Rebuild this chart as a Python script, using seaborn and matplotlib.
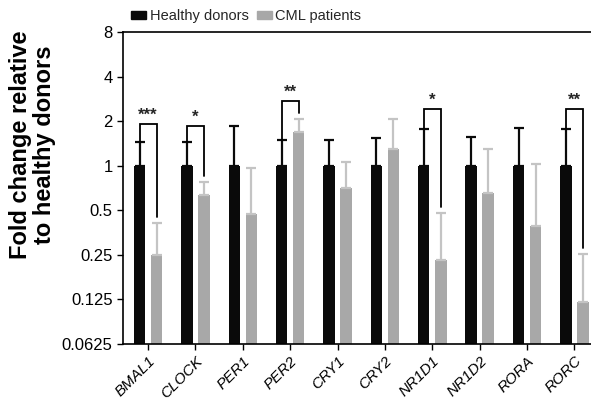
import pandas as pd
import numpy as np
import matplotlib
matplotlib.use("Agg")
import matplotlib.pyplot as plt
import seaborn as sns

sns.set_style("white")
plt.rcParams['font.family'] = ['Liberation Sans', 'DejaVu Sans']

# data
genes = ['BMAL1', 'CLOCK', 'PER1', 'PER2', 'CRY1', 'CRY2', 'NR1D1', 'NR1D2', 'RORA', 'RORC']
healthy_mean = [1, 1, 1, 1, 1, 1, 1, 1, 1, 1]
healthy_upper = [1.45, 1.45, 1.86, 1.50, 1.50, 1.54, 1.78, 1.57, 1.80, 1.78]
cml_mean = [0.25, 0.63, 0.47, 1.70, 0.71, 1.30, 0.23, 0.66, 0.39, 0.121]
cml_upper = [0.41, 0.78, 0.97, 2.07, 1.06, 2.07, 0.48, 1.30, 1.03, 0.255]

# significance brackets: gene, stars, bracket height
sig_genes = ['BMAL1', 'CLOCK', 'PER2', 'NR1D1', 'RORC']
sig_stars = ['***', '*', '**', '*', '**']
sig_height = [1.92, 1.86, 2.74, 2.42, 2.42]

yticks = [0.0625, 0.125, 0.25, 0.5, 1, 2, 4, 8]

df = pd.DataFrame({
    'gene': genes * 2,
    'group': ['Healthy donors'] * len(genes) + ['CML patients'] * len(genes),
    'value': healthy_mean + cml_mean,
})

colors = {'Healthy donors': '#0a0a0a', 'CML patients': '#a8a8a8'}
err_colors = {'Healthy donors': '#0a0a0a', 'CML patients': '#c4c4c4'}

fig = plt.figure(figsize=(5.91, 4.01), dpi=100)
ax = fig.add_axes([0.208, 0.142, 0.80, 0.778])

sns.barplot(data=df, x='gene', y='value', hue='group', palette=colors,
            width=0.72, gap=0.33, errorbar=None, ax=ax, legend=False,
            linewidth=0)
ax.set_yscale('log', base=2)

# error bars (upper only) on top of each bar
centers = {}
for container, grp, upper, means in zip(ax.containers,
                                        ['Healthy donors', 'CML patients'],
                                        [healthy_upper, cml_upper],
                                        [healthy_mean, cml_mean]):
    xs = [p.get_x() + p.get_width() / 2 for p in container.patches]
    centers[grp] = xs
    up = np.array(upper) - np.array(means)
    ax.errorbar(xs, means, yerr=[np.zeros(len(xs)), up], fmt='none',
                ecolor=err_colors[grp], elinewidth=1.6, capsize=3.5,
                capthick=1.6, zorder=1)

# significance brackets
for g, s, h in zip(sig_genes, sig_stars, sig_height):
    i = genes.index(g)
    x0 = centers['Healthy donors'][i]
    x1 = centers['CML patients'][i]
    y0 = healthy_upper[i]
    y1 = cml_upper[i] * 1.1
    ax.plot([x0, x0, x1, x1], [y0, h, h, y1], color='black', lw=1.3,
            solid_joinstyle='miter')
    ax.text((x0 + x1) / 2, h * 1.02, s, ha='center', va='bottom',
            fontsize=12, fontweight='bold')

ax.set_ylim(0.0625, 8)
ax.set_xlim(-0.53, 9.45)
ax.set_yticks(yticks)
ax.set_yticklabels(['0.0625', '0.125', '0.25', '0.5', '1', '2', '4', '8'])
ax.minorticks_off()
ax.set_xticks(range(len(genes)))
ax.set_xticklabels(genes, rotation=45, ha='right', rotation_mode='anchor',
                   fontstyle='italic')
ax.tick_params(axis='both', direction='out', length=4,
               width=1, left=True, bottom=True, colors='black')
ax.tick_params(axis='y', labelsize=12)
ax.tick_params(axis='x', labelsize=11, pad=3)
ax.set_xlabel('')
ax.set_ylabel('Fold change relative\nto healthy donors', fontsize=17,
              fontweight='bold', linespacing=1.05, color='black')
ax.yaxis.set_label_coords(-0.142, 0.64)

for side in ['left', 'bottom', 'top']:
    ax.spines[side].set_color('black')
    ax.spines[side].set_linewidth(1.2)
ax.spines['right'].set_visible(False)

handles = [plt.Rectangle((0, 0), 1, 1, color=colors[k]) for k in colors]
fig.legend(handles, list(colors.keys()), loc='upper left',
           bbox_to_anchor=(0.2, 1.01), ncol=2, frameon=False, fontsize=10.5,
           handlelength=1.0, handleheight=0.55, handletextpad=0.25,
           columnspacing=0.6)

fig.savefig('out.png', dpi=100)
